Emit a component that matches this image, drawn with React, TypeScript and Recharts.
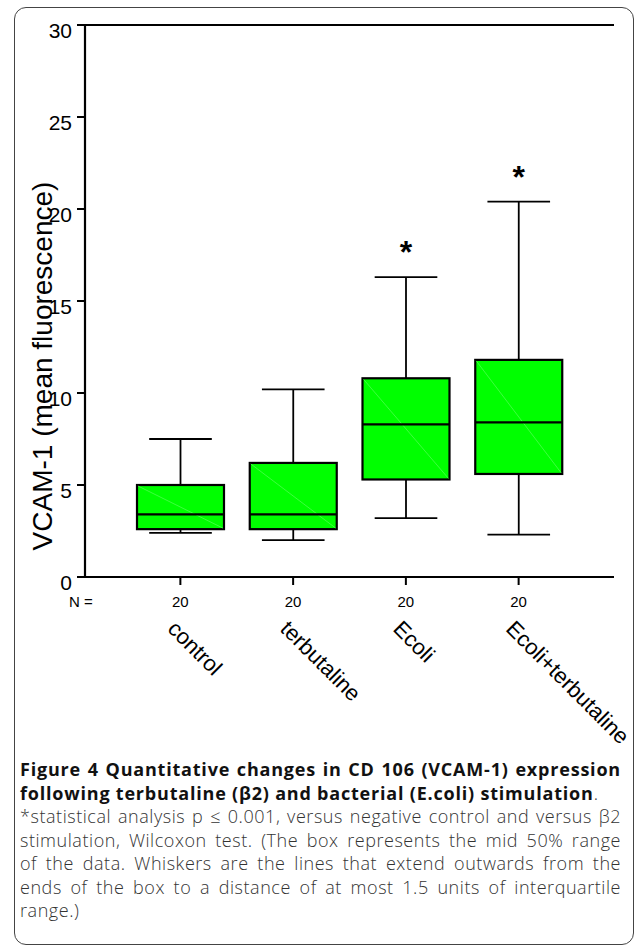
import { ComposedChart, Bar, XAxis, YAxis, ReferenceLine, Label } from 'recharts';

// values (mean fluorescence)
const categories = ['control', 'terbutaline', 'Ecoli', 'Ecoli+terbutaline'];
const sampleSizes = [20, 20, 20, 20];
const whiskerLow = [2.4, 2.0, 3.2, 2.3];
const quartile1 = [2.6, 2.6, 5.3, 5.6];
const medians = [3.4, 3.4, 8.3, 8.4];
const quartile3 = [5.0, 6.2, 10.8, 11.8];
const whiskerHigh = [7.5, 10.2, 16.3, 20.4];
const significant = [false, false, true, true];
const yTicks = [0, 5, 10, 15, 20, 25, 30];

const chartData = categories.map((name, i) => ({
  name,
  n: sampleSizes[i],
  low: whiskerLow[i],
  q1: quartile1[i],
  median: medians[i],
  q3: quartile3[i],
  high: whiskerHigh[i],
  sig: significant[i],
  range: [whiskerLow[i], whiskerHigh[i]],
}));

const FONT = '"Liberation Sans", Arial, sans-serif';

function BoxShape(props: any) {
  const { x, y, width, height, payload } = props;
  if (x == null || y == null) return null;
  const top = Math.min(y, y + height);
  const bottom = Math.max(y, y + height);
  const { low, q1, median, q3, high, sig } = payload;
  // map a value into the pixel span the bar scale gave for [low, high]
  const py = (v: number) => bottom - ((bottom - top) * (v - low)) / (high - low);
  const cx = x + width / 2;
  const cap = width * 0.36;
  const boxTop = py(q3);
  const boxBottom = py(q1);

  return (
    <g>
      <line x1={cx} x2={cx} y1={py(high)} y2={boxTop} stroke="#000" strokeWidth={1.8} />
      <line x1={cx} x2={cx} y1={boxBottom} y2={py(low)} stroke="#000" strokeWidth={1.8} />
      <line x1={cx - cap} x2={cx + cap} y1={py(high)} y2={py(high)} stroke="#000" strokeWidth={1.8} />
      <line x1={cx - cap} x2={cx + cap} y1={py(low)} y2={py(low)} stroke="#000" strokeWidth={1.8} />
      <rect x={x} y={boxTop} width={width} height={boxBottom - boxTop} fill="#00ff00" stroke="#000" strokeWidth={2.2} />
      <line x1={x + 1} y1={boxTop + 1} x2={x + width - 1} y2={boxBottom - 1} stroke="#66ff66" strokeWidth={0.6} />
      <line x1={x} x2={x + width} y1={py(median)} y2={py(median)} stroke="#000" strokeWidth={2.2} />
      {sig && (
        <text x={cx} y={py(high) - 14} textAnchor="middle" fontSize={32} fontWeight="bold" fontFamily={FONT} fill="#000">
          *
        </text>
      )}
    </g>
  );
}

function CategoryTick(props: any) {
  const { x, y, payload, index } = props;
  const lx = x - 14;
  const ly = y + 43;
  return (
    <g>
      <text x={x} y={y + 19.5} textAnchor="middle" fontSize={15} fontFamily={FONT} fill="#000">
        {sampleSizes[index]}
      </text>
      <text x={lx} y={ly} transform={`rotate(45, ${lx}, ${ly})`} textAnchor="start" fontSize={22} fontFamily={FONT} fill="#000">
        {payload.value}
      </text>
    </g>
  );
}

function ValueTick(props: any) {
  const { x, y, payload } = props;
  return (
    <text x={x} y={y + 12.5} textAnchor="end" fontSize={21} fontFamily={FONT} fill="#000">
      {payload.value}
    </text>
  );
}

const capLine = { lineHeight: '23.5px', whiteSpace: 'nowrap' as const, letterSpacing: '0.55px' };
const justified = { ...capLine, textAlign: 'justify' as const, textAlignLast: 'justify' as const };
const bold = { fontWeight: 700, color: '#111', letterSpacing: '0.8px' };

export default function App() {
  return (
    <div style={{ position: 'absolute', left: 0, top: 0, width: 636, height: 951, background: '#fff', overflow: 'hidden' }}>
      <div
        style={{
          position: 'absolute',
          left: 14,
          top: 7,
          width: 620,
          height: 938,
          border: '1.5px solid #444',
          borderRadius: 12,
          boxSizing: 'border-box',
        }}
      />
      <div style={{ position: 'absolute', left: 0, top: 0 }}>
        <ComposedChart
          width={636}
          height={760}
          data={chartData}
          margin={{ top: 25, right: 22, left: 0, bottom: 0 }}
          barCategoryGap={0}
        >
          <XAxis
            dataKey="name"
            interval={0}
            height={183}
            padding={{ left: 39, right: 39 }}
            axisLine={{ stroke: '#000', strokeWidth: 2.2 }}
            tickLine={{ stroke: '#000', strokeWidth: 2 }}
            tickSize={8}
            tick={<CategoryTick />}
          >
            <Label
              content={(p: any) => (
                <text x={p.viewBox.x - 16} y={p.viewBox.y + 29.5} fontSize={15} fontFamily={FONT} fill="#000">
                  N =
                </text>
              )}
            />
          </XAxis>
          <YAxis
            yAxisId="left"
            width={85}
            domain={[0, 30]}
            ticks={yTicks}
            interval={0}
            axisLine={{ stroke: '#000', strokeWidth: 2.2 }}
            tickLine={{ stroke: '#000', strokeWidth: 2 }}
            tickSize={8}
            tickMargin={5}
            tick={<ValueTick />}
          >
            <Label
              content={(p: any) => {
                const cx = 42;
                const cy = p.viewBox.y + p.viewBox.height / 2 + 65;
                return (
                  <text
                    x={cx}
                    y={cy}
                    transform={`rotate(-90, ${cx}, ${cy})`}
                    textAnchor="middle"
                    dominantBaseline="central"
                    fontSize={28}
                    fontFamily={FONT}
                    fill="#000"
                  >
                    VCAM-1 (mean fluorescence)
                  </text>
                );
              }}
            />
          </YAxis>
          <YAxis
            yAxisId="right"
            orientation="right"
            width={0}
            domain={[0, 30]}
            tick={false}
            tickLine={false}
            axisLine={{ stroke: '#000', strokeWidth: 2.2 }}
          />
          <ReferenceLine yAxisId="left" y={30} stroke="#000" strokeWidth={2.2} />
          <Bar
            yAxisId="left"
            dataKey="range"
            barSize={87}
            shape={<BoxShape />}
            isAnimationActive={false}
          />
        </ComposedChart>
      </div>
      <div
        style={{
          position: 'absolute',
          left: 20,
          top: 758,
          width: 601,
          fontFamily: '"Open Sans", sans-serif',
          fontSize: 18,
          fontWeight: 300,
          color: '#333',
        }}
      >
        <div style={{ ...justified, ...bold }}>Figure 4 Quantitative changes in CD 106 (VCAM-1) expression</div>
        <div style={capLine}>
          <span style={bold}>following terbutaline (β2) and bacterial (E.coli) stimulation</span>.
        </div>
        <div style={justified}>*statistical analysis p ≤ 0.001, versus negative control and versus β2</div>
        <div style={justified}>stimulation, Wilcoxon test. (The box represents the mid 50% range</div>
        <div style={justified}>of the data. Whiskers are the lines that extend outwards from the</div>
        <div style={justified}>ends of the box to a distance of at most 1.5 units of interquartile</div>
        <div style={capLine}>range.)</div>
      </div>
    </div>
  );
}
